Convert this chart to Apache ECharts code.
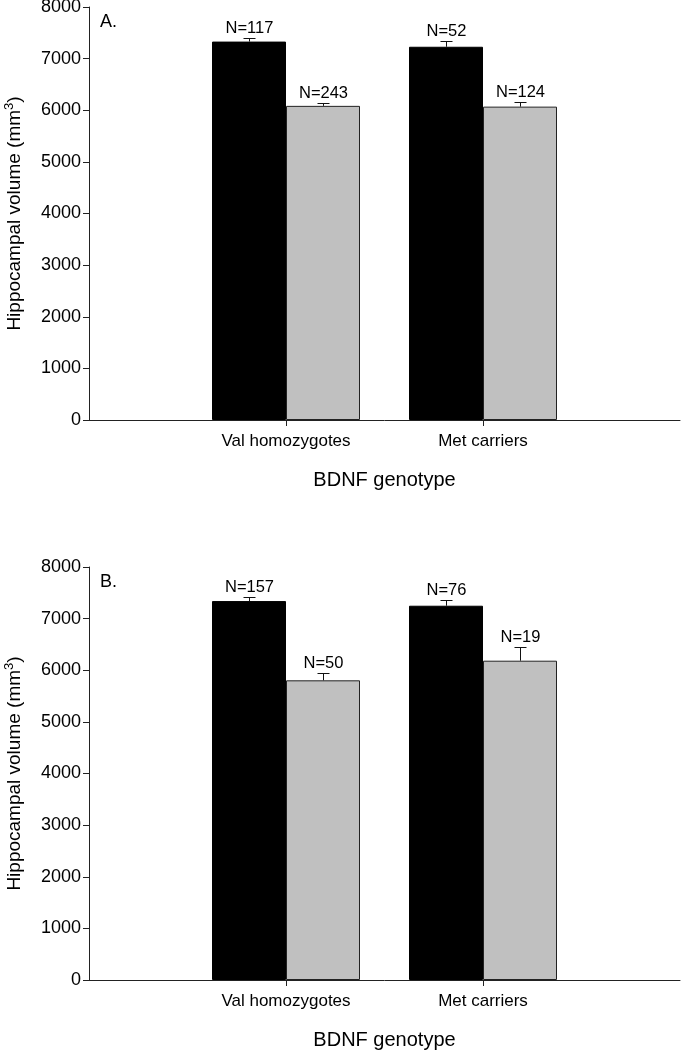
<!DOCTYPE html>
<html>
<head>
<meta charset="utf-8">
<script src="https://cdn.jsdelivr.net/npm/echarts@6/dist/echarts.min.js"></script>
<style>html,body{margin:0;padding:0;background:#fff}#c{width:681px;height:1050px}</style>
</head>
<body>
<div id="c"></div>
<script>
// Categories and tick labels
const categories = ['Val homozygotes', 'Met carriers'];
const yTicks = [0, 1000, 2000, 3000, 4000, 5000, 6000, 7000, 8000];
const panelLabels = ['A.', 'B.'];

// Panel A values
const aBlack = [7330, 7230];
const aBlackSE = [78, 110];
const aBlackN = [117, 52];
const aGray = [6085, 6070];
const aGraySE = [60, 95];
const aGrayN = [243, 124];

// Panel B values
const bBlack = [7340, 7250];
const bBlackSE = [84, 116];
const bBlackN = [157, 76];
const bGray = [5805, 6185];
const bGraySE = [135, 270];
const bGrayN = [50, 19];

const FONT = 'Liberation Sans, Arial, sans-serif';
const axisCats = [''].concat(categories, ['']);
const BW = 74;

function padded(arr) { return [null].concat(arr, [null]); }
function errData(vals, se, n, side) {
  return vals.map((v, i) => [i + 1, v, se[i], n[i], side]);
}
function errRender(params, api) {
  const c = api.value(0), v = api.value(1), e = api.value(2), n = api.value(3), side = api.value(4);
  const base = api.coord([c, v]);
  const top = api.coord([c, v + e]);
  const x = Math.round(base[0] + side * BW / 2) + 0.5;
  const ty = Math.round(top[1]) + 0.5;
  return {
    type: 'group',
    children: [
      { type: 'line', shape: { x1: x, y1: base[1], x2: x, y2: ty }, style: { stroke: '#111', lineWidth: 1 } },
      { type: 'line', shape: { x1: x - 6, y1: ty, x2: x + 6, y2: ty }, style: { stroke: '#111', lineWidth: 1 } },
      { type: 'text', style: { text: 'N=' + n, x: x, y: ty - 2, align: 'center', verticalAlign: 'bottom', fontSize: 16.5, fontFamily: FONT, fill: '#000' } }
    ]
  };
}

const tops = [7, 567];
const grids = tops.map(t => ({ left: 89, right: 1, top: t, height: 413, containLabel: false, outerBoundsMode: 'none' }));

function xAxisFor(i) {
  return {
    type: 'category', gridIndex: i, data: axisCats, boundaryGap: false,
    axisLine: { lineStyle: { color: '#222', width: 1 } },
    axisTick: { show: true, length: 6, inside: false, interval: (idx, val) => val !== '', lineStyle: { color: '#222' } },
    axisLabel: { interval: 0, color: '#000', fontSize: 17, fontFamily: FONT, margin: 13 },
    name: 'BDNF genotype', nameLocation: 'middle', nameGap: 50,
    nameTextStyle: { color: '#000', fontSize: 20, fontFamily: FONT }
  };
}
function yAxisFor(i) {
  return {
    type: 'value', gridIndex: i, min: yTicks[0], max: yTicks[yTicks.length - 1], interval: yTicks[1] - yTicks[0],
    axisLine: { show: true, lineStyle: { color: '#222', width: 1 } },
    axisTick: { show: true, length: 6, inside: false, lineStyle: { color: '#222' } },
    splitLine: { show: false },
    axisLabel: { color: '#000', fontSize: 18, fontFamily: FONT, margin: 8, formatter: v => String(v) },
    name: 'Hippocampal volume (mm{sup|3})', nameLocation: 'middle', nameGap: 62, nameRotate: 90,
    nameTextStyle: { color: '#000', fontSize: 19, fontFamily: FONT, lineHeight: 24,
      rich: { sup: { fontSize: 13, fontFamily: FONT, color: '#000', verticalAlign: 'top', lineHeight: 24 } } }
  };
}

const sets = [
  { black: aBlack, bse: aBlackSE, bn: aBlackN, gray: aGray, gse: aGraySE, gn: aGrayN },
  { black: bBlack, bse: bBlackSE, bn: bBlackN, gray: bGray, gse: bGraySE, gn: bGrayN }
];
const series = [];
sets.forEach((s, i) => {
  series.push({ type: 'bar', xAxisIndex: i, yAxisIndex: i, data: padded(s.black), barWidth: BW, barGap: '0%',
    itemStyle: { color: '#000', borderColor: '#000', borderWidth: 1 }, silent: true, animation: false });
  series.push({ type: 'bar', xAxisIndex: i, yAxisIndex: i, data: padded(s.gray), barWidth: BW, barGap: '0%',
    itemStyle: { color: '#c0c0c0', borderColor: '#222', borderWidth: 1 }, silent: true, animation: false });
  series.push({ type: 'custom', xAxisIndex: i, yAxisIndex: i, renderItem: errRender, data: errData(s.black, s.bse, s.bn, -1), z: 5, animation: false, silent: true });
  series.push({ type: 'custom', xAxisIndex: i, yAxisIndex: i, renderItem: errRender, data: errData(s.gray, s.gse, s.gn, 1), z: 5, animation: false, silent: true });
});

const chart = echarts.init(document.getElementById('c'), null, { renderer: 'canvas' });
chart.setOption({
  backgroundColor: '#fff',
  animation: false,
  grid: grids,
  xAxis: [xAxisFor(0), xAxisFor(1)],
  yAxis: [yAxisFor(0), yAxisFor(1)],
  graphic: panelLabels.map((t, i) => ({ type: 'text', left: 100, top: tops[i] + 6, style: { text: t, fontSize: 18, fontFamily: FONT, fill: '#000' } })),
  series: series
});
</script>
</body>
</html>
